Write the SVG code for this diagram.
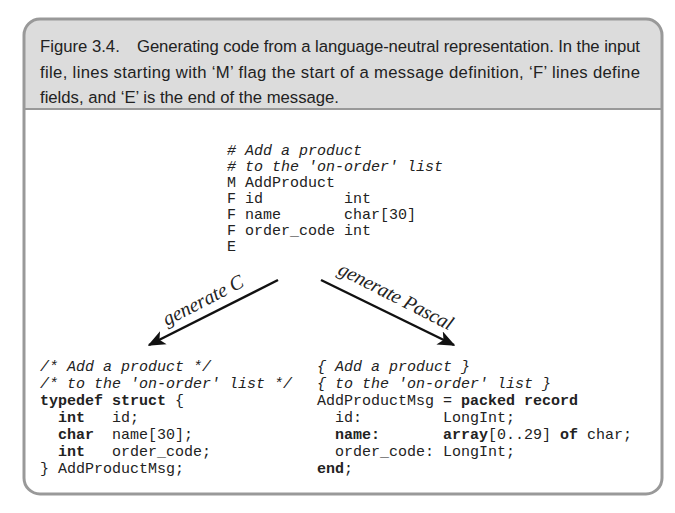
<svg xmlns="http://www.w3.org/2000/svg" width="675" height="513" viewBox="0 0 675 513">
<style>
.cap{font-family:"Liberation Sans",Arial,sans-serif;font-size:16.7px;fill:#222}
.code{font-family:"Liberation Mono","Courier New",monospace;font-size:15px;fill:#222;white-space:pre}
.it{font-style:italic}
.b{font-weight:bold}
.lbl{font-family:"Liberation Serif","Times New Roman",serif;font-style:italic;font-size:20px;fill:#222}
.arr{stroke:#111;stroke-width:2.5;fill:none}
</style>
<defs>
<marker id="ah" viewBox="0 0 12 10" refX="11" refY="5" markerWidth="7" markerHeight="6" orient="auto" markerUnits="strokeWidth">
<path d="M0,0 L12,5 L0,10 L3,5 Z" fill="#111"/>
</marker>
</defs>
<rect x="0" y="0" width="675" height="513" fill="#fff"/>
<g id="frame">
<path d="M24,109 V35 Q24,19 40,19 H646 Q662,19 662,35 V109 Z" fill="#dcdcdc"/>
<line x1="24" y1="109" x2="662" y2="109" stroke="#999" stroke-width="2"/>
<rect x="24" y="19" width="638" height="475" rx="16" fill="none" stroke="#999" stroke-width="3"/>
</g>
<g id="caption">
<text class="cap" x="40" y="52">Figure 3.4.</text>
<text class="cap" x="137" y="52" textLength="503" lengthAdjust="spacing">Generating code from a language-neutral representation. In the input</text>
<text class="cap" x="40" y="78" textLength="600" lengthAdjust="spacing">file, lines starting with ‘M’ flag the start of a message definition, ‘F’ lines define</text>
<text class="cap" x="40" y="103">fields, and ‘E’ is the end of the message.</text>
</g>
<g id="input">
<text class="code it" x="227" y="155"># Add a product</text>
<text class="code it" x="227" y="171"># to the 'on-order' list</text>
<text class="code" x="227" y="187">M AddProduct</text>
<text class="code" x="227" y="203">F id         int</text>
<text class="code" x="227" y="219">F name       char[30]</text>
<text class="code" x="227" y="235">F order_code int</text>
<text class="code" x="227" y="251">E</text>
</g>
<g id="c-output">
<text class="code it" x="40" y="371">/* Add a product */</text>
<text class="code it" x="40" y="388">/* to the 'on-order' list */</text>
<text class="code" x="40" y="405"><tspan class="b">typedef struct</tspan> {</text>
<text class="code" x="40" y="422">  <tspan class="b">int</tspan>   id;</text>
<text class="code" x="40" y="439">  <tspan class="b">char</tspan>  name[30];</text>
<text class="code" x="40" y="456">  <tspan class="b">int</tspan>   order_code;</text>
<text class="code" x="40" y="473">} AddProductMsg;</text>
</g>
<g id="pascal-output">
<text class="code it" x="317" y="371">{ Add a product }</text>
<text class="code it" x="317" y="388">{ to the 'on-order' list }</text>
<text class="code" x="317" y="405">AddProductMsg = <tspan class="b">packed record</tspan></text>
<text class="code" x="317" y="422">  id:         LongInt;</text>
<text class="code" x="317" y="439">  <tspan class="b">name:</tspan>       <tspan class="b">array</tspan>[0..29] <tspan class="b">of</tspan> char;</text>
<text class="code" x="317" y="456">  order_code: LongInt;</text>
<text class="code" x="317" y="473"><tspan class="b">end</tspan>;</text>
</g>
<g id="connectors">
<line class="arr" x1="278" y1="280" x2="149" y2="345" marker-end="url(#ah)"/>
<line class="arr" x1="321" y1="280" x2="454" y2="345" marker-end="url(#ah)"/>
<text class="lbl" transform="translate(206,306) rotate(-27)" text-anchor="middle" textLength="88" lengthAdjust="spacing">generate C</text>
<text class="lbl" transform="translate(393,302) rotate(27)" text-anchor="middle" textLength="126" lengthAdjust="spacing">generate Pascal</text>
</g>
</svg>
